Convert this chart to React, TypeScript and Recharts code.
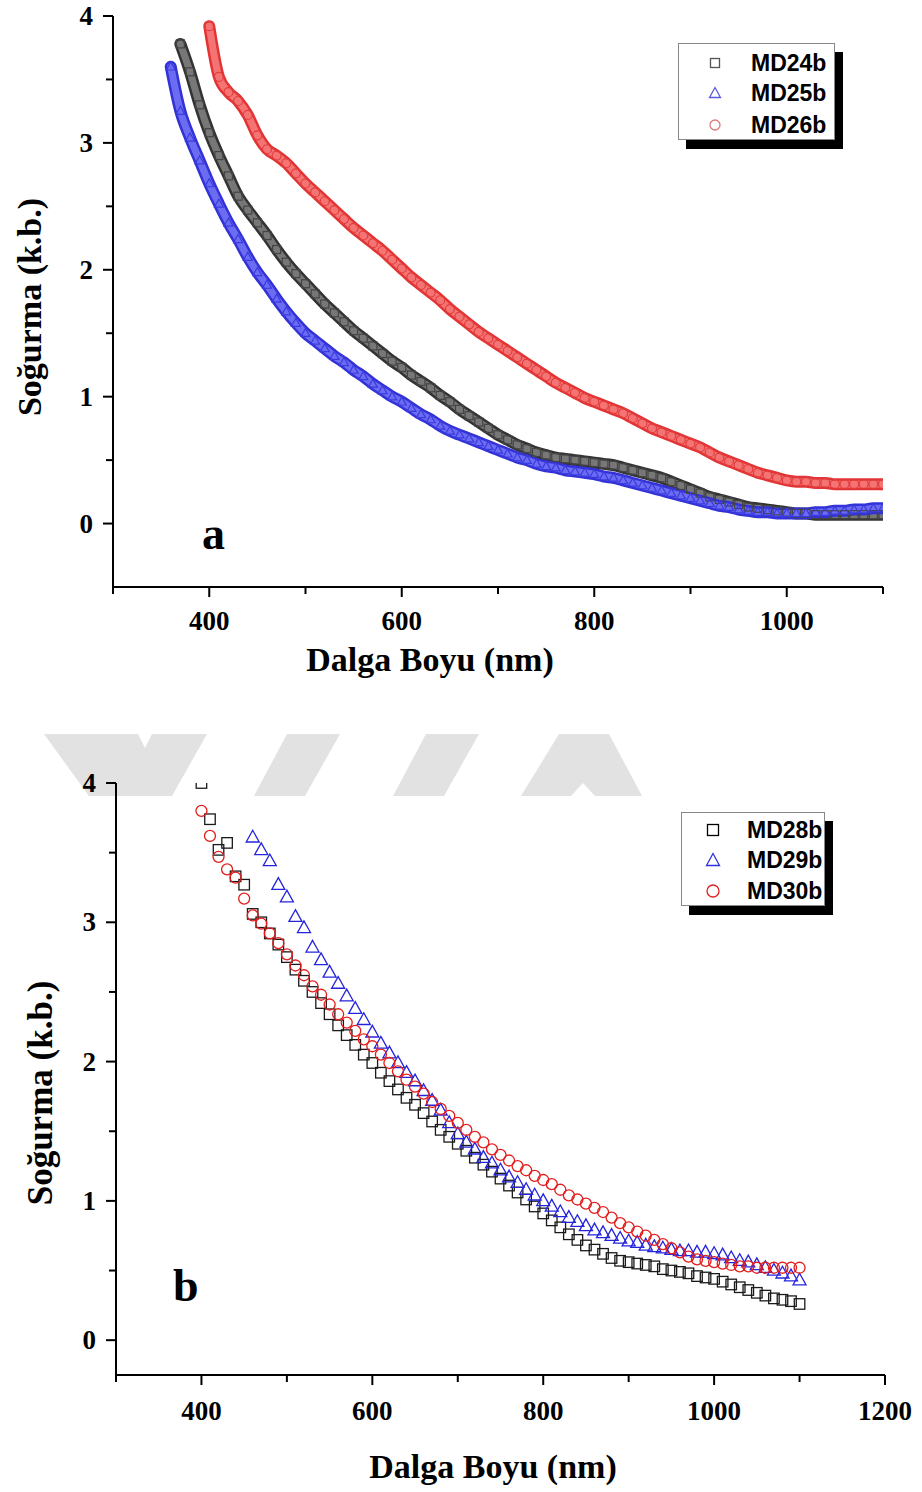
import React from 'react';
import { ComposedChart, Line, Scatter, XAxis, YAxis } from 'recharts';

// ---- panel a ----
const wlA = [
  360, 370, 380, 390, 400, 410, 420, 430, 440, 450, 460, 470, 480, 490, 500, 510, 520, 530, 540, 550,
  560, 570, 580, 590, 600, 610, 620, 630, 640, 650, 660, 670, 680, 690, 700, 710, 720, 730, 740, 750,
  760, 770, 780, 790, 800, 810, 820, 830, 840, 850, 860, 870, 880, 890, 900, 910, 920, 930, 940, 950,
  960, 970, 980, 990, 1000, 1010, 1020, 1030, 1040, 1050, 1060, 1070, 1080, 1090, 1100,
];
const md24b = [
  null, 3.78, 3.56, 3.3, 3.08, 2.9, 2.74, 2.58, 2.47, 2.37,
  2.27, 2.16, 2.06, 1.97, 1.89, 1.81, 1.73, 1.66, 1.59, 1.52,
  1.46, 1.4, 1.34, 1.28, 1.23, 1.17, 1.12, 1.07, 1.01, 0.96,
  0.9, 0.85, 0.8, 0.75, 0.7, 0.66, 0.62, 0.59, 0.56, 0.54,
  0.52, 0.51, 0.5, 0.49, 0.48, 0.47, 0.46, 0.44, 0.42, 0.4,
  0.38, 0.36, 0.33, 0.3, 0.27, 0.24, 0.21, 0.19, 0.17, 0.15,
  0.13, 0.12, 0.11, 0.1, 0.09, 0.08, 0.08, 0.07, 0.07, 0.07,
  0.07, 0.07, 0.07, 0.07, 0.07,
];
const md25b = [
  3.6, 3.25, 3.04, 2.86, 2.68, 2.52, 2.37, 2.24, 2.1, 1.98,
  1.88, 1.77, 1.67, 1.58, 1.5, 1.44, 1.38, 1.32, 1.27, 1.21,
  1.16, 1.1, 1.05, 1.0, 0.96, 0.91, 0.86, 0.82, 0.77, 0.73,
  0.7, 0.67, 0.64, 0.61, 0.58, 0.55, 0.52, 0.5, 0.47, 0.45,
  0.44, 0.42, 0.41, 0.4, 0.39, 0.37, 0.36, 0.34, 0.32, 0.3,
  0.28, 0.26, 0.24, 0.22, 0.2, 0.18, 0.16, 0.14, 0.13, 0.11,
  0.1, 0.09, 0.09, 0.08, 0.08, 0.08, 0.08, 0.09, 0.09, 0.1,
  0.1, 0.11, 0.11, 0.12, 0.12,
];
const md26b = [
  null, null, null, null, 3.92, 3.52, 3.4, 3.33, 3.22, 3.06,
  2.95, 2.9, 2.84, 2.76, 2.68, 2.61, 2.54, 2.47, 2.4, 2.33,
  2.27, 2.21, 2.15, 2.08, 2.01, 1.94, 1.88, 1.82, 1.76, 1.69,
  1.63, 1.57, 1.51, 1.46, 1.41, 1.36, 1.31, 1.26, 1.21, 1.16,
  1.11, 1.07, 1.03, 0.99, 0.96, 0.93, 0.9, 0.87, 0.83, 0.79,
  0.75, 0.72, 0.69, 0.66, 0.63, 0.6, 0.56, 0.52, 0.49, 0.46,
  0.43, 0.4, 0.38, 0.36, 0.34, 0.33, 0.33, 0.32, 0.32, 0.31,
  0.31, 0.31, 0.31, 0.31, 0.31,
];
const xTicksA = [300, 400, 500, 600, 700, 800, 900, 1000, 1100];
const xLabelsA = [400, 600, 800, 1000];
const yTicksA = [0, 0.5, 1, 1.5, 2, 2.5, 3, 3.5, 4];
const yLabelsA = [0, 1, 2, 3, 4];

// ---- panel b ----
const wlB = [
  400, 410, 420, 430, 440, 450, 460, 470, 480, 490, 500, 510, 520, 530, 540, 550, 560, 570, 580, 590,
  600, 610, 620, 630, 640, 650, 660, 670, 680, 690, 700, 710, 720, 730, 740, 750, 760, 770, 780, 790,
  800, 810, 820, 830, 840, 850, 860, 870, 880, 890, 900, 910, 920, 930, 940, 950, 960, 970, 980, 990,
  1000, 1010, 1020, 1030, 1040, 1050, 1060, 1070, 1080, 1090, 1100,
];
const md28b = [
  4.0, 3.74, 3.52, 3.57, 3.33, 3.27, 3.06, 3.0, 2.92, 2.84,
  2.75, 2.66, 2.58, 2.5, 2.42, 2.34, 2.26, 2.19, 2.12, 2.05,
  1.99, 1.92, 1.86, 1.8, 1.74, 1.69, 1.63, 1.57, 1.51, 1.46,
  1.41, 1.36, 1.31, 1.26, 1.21, 1.16, 1.11, 1.06, 1.01, 0.96,
  0.91, 0.86, 0.81, 0.76, 0.72, 0.68, 0.65, 0.62, 0.59, 0.57,
  0.56, 0.55, 0.54, 0.53, 0.51, 0.5, 0.49, 0.48, 0.46, 0.45,
  0.44, 0.42, 0.4, 0.38, 0.36, 0.34, 0.32, 0.3, 0.29, 0.28,
  0.26,
];
const md29b = [
  null, null, null, null, null, null, 3.61, 3.52, 3.44, 3.27,
  3.18, 3.04, 2.96, 2.82, 2.73, 2.64, 2.56, 2.47, 2.38, 2.3,
  2.21, 2.13, 2.06, 1.99, 1.92, 1.86, 1.79, 1.72, 1.65, 1.56,
  1.48, 1.42, 1.37, 1.31, 1.27, 1.22, 1.17, 1.13, 1.08, 1.04,
  1.0, 0.96, 0.92, 0.88, 0.85, 0.82, 0.79, 0.77, 0.75, 0.73,
  0.71, 0.7, 0.68, 0.67, 0.66, 0.65, 0.64, 0.64, 0.63, 0.63,
  0.62, 0.61, 0.59, 0.57, 0.56, 0.54, 0.52, 0.5, 0.48, 0.46,
  0.43,
];
const md30b = [
  3.8, 3.62, 3.47, 3.38, 3.32, 3.17, 3.05, 2.99, 2.92, 2.85,
  2.77, 2.69, 2.62, 2.54, 2.48, 2.41, 2.34, 2.28, 2.22, 2.16,
  2.11, 2.05, 1.99, 1.93, 1.87, 1.82, 1.77, 1.71, 1.66, 1.61,
  1.56, 1.51, 1.46, 1.42, 1.37, 1.33, 1.29, 1.25, 1.22, 1.18,
  1.15, 1.12, 1.08, 1.04, 1.01, 0.98, 0.95, 0.92, 0.88, 0.84,
  0.81, 0.78, 0.75, 0.72, 0.69, 0.66, 0.63, 0.6, 0.58, 0.57,
  0.56, 0.55, 0.54, 0.53, 0.53, 0.52, 0.52, 0.52, 0.52, 0.52,
  0.52,
];
const xTicksB = [300, 400, 500, 600, 700, 800, 900, 1000, 1100, 1200];
const xLabelsB = [400, 600, 800, 1000, 1200];
const yTicksB = [0, 0.5, 1, 1.5, 2, 2.5, 3, 3.5, 4];
const yLabelsB = [0, 1, 2, 3, 4];

const serif = "'Liberation Serif', 'DejaVu Serif', serif";
const sans = "'Liberation Sans', Arial, sans-serif";

const toPoints = (wl: number[], vals: (number | null)[], key: string) =>
  wl.map((w, i) => ({ wl: w, [key]: vals[i] })).filter((p) => p[key] != null);

const a24 = toPoints(wlA, md24b, 'md24b');
const a25 = toPoints(wlA, md25b, 'md25b');
const a26 = toPoints(wlA, md26b, 'md26b');
const b28 = toPoints(wlB, md28b, 'md28b');
const b29 = toPoints(wlB, md29b, 'md29b');
const b30 = toPoints(wlB, md30b, 'md30b');

const tickText = { fontFamily: serif, fontWeight: 700, fontSize: 27, fill: '#000' };

const makeXTick = (labels: number[], gap: number) => (props: any) => {
  const { x, y, payload } = props;
  const major = labels.includes(payload.value);
  return (
    <g>
      <line x1={x} x2={x} y1={y} y2={y + (major ? 10 : 7)} stroke="#000" strokeWidth={2} />
      {major && (
        <text x={x} y={y + gap} textAnchor="middle" style={tickText}>
          {payload.value}
        </text>
      )}
    </g>
  );
};

const makeYTick = (labels: number[]) => (props: any) => {
  const { x, y, payload } = props;
  const major = labels.includes(payload.value);
  return (
    <g>
      <line x1={x} x2={x - (major ? 10 : 7)} y1={y} y2={y} stroke="#000" strokeWidth={2} />
      {major && (
        <text x={x - 20} y={y} dy={9} textAnchor="end" style={tickText}>
          {payload.value}
        </text>
      )}
    </g>
  );
};

const square = (color: string, s: number, sw: number) => (p: any) =>
  <rect x={p.cx - s / 2} y={p.cy - s / 2} width={s} height={s} fill="none" stroke={color} strokeWidth={sw} />;
const triangle = (color: string, s: number, sw: number) => (p: any) => {
  const h = s * 0.9;
  return (
    <polygon
      points={`${p.cx},${p.cy - h * 0.6} ${p.cx - s / 2},${p.cy + h * 0.4} ${p.cx + s / 2},${p.cy + h * 0.4}`}
      fill="none"
      stroke={color}
      strokeWidth={sw}
    />
  );
};
const circle = (color: string, s: number, sw: number) => (p: any) =>
  <circle cx={p.cx} cy={p.cy} r={s / 2} fill="none" stroke={color} strokeWidth={sw} />;

const frame = { stroke: '#000', strokeWidth: 2 };

function LegendBox(props: {
  left: number; top: number; width: number; height: number; iconX: number; textX: number;
  rows: { y: number; label: string; icon: React.ReactNode }[];
}) {
  return (
    <div
      style={{
        position: 'absolute', left: props.left, top: props.top, width: props.width, height: props.height,
        border: '1px solid #888', background: '#fff', boxShadow: '8px 9px 0 0 #000', boxSizing: 'border-box',
      }}
    >
      {props.rows.map((r) => (
        <div key={r.label}>
          <svg style={{ position: 'absolute', left: props.iconX - 9, top: r.y - 9 }} width={18} height={18}>
            {r.icon}
          </svg>
          <div
            style={{
              position: 'absolute', left: props.textX, top: r.y - 11.5, fontFamily: sans, fontWeight: 700,
              fontSize: 23, lineHeight: '23px', color: '#000', whiteSpace: 'nowrap',
            }}
          >
            {r.label}
          </div>
        </div>
      ))}
    </div>
  );
}

const abs = (left: number, top: number, extra: React.CSSProperties = {}): React.CSSProperties => ({
  position: 'absolute', left, top, fontFamily: serif, fontWeight: 700, color: '#000', whiteSpace: 'nowrap',
  lineHeight: 1, ...extra,
});

export default function App() {
  return (
    <div style={{ position: 'absolute', left: 0, top: 0, width: 922, height: 1492, background: '#fff', overflow: 'hidden' }}>
      {/* watermark */}
      <svg style={{ position: 'absolute', left: 0, top: 0 }} width={922} height={1492}>
        <g fill="#e2e2e2">
          <polygon points="44,734 138,734 145,748 152,734 207,734 172,796 89,796" />
          <polygon points="287,734 340,734 305,796 254,796" />
          <polygon points="426,734 479,734 444,796 393,796" />
          <polygon points="559,734 609,734 642,796 595,796 583,783 571,796 521,796" />
        </g>
      </svg>

      {/* panel a */}
      <div style={{ position: 'absolute', left: 0, top: 0 }}>
        <ComposedChart width={922} height={700} margin={{ top: 16, right: 39, bottom: 23, left: 0 }}>
          <XAxis
            dataKey="wl" type="number" domain={[300, 1100]} ticks={xTicksA} interval={0} height={90}
            tickSize={0} tickMargin={0} tickLine={false} axisLine={frame} tick={makeXTick(xLabelsA, 43)}
            allowDataOverflow
          />
          <XAxis xAxisId="top" orientation="top" type="number" domain={[300, 1100]} height={0} tick={false} tickLine={false} axisLine={frame} />
          <YAxis
            type="number" domain={[-0.5, 4]} ticks={yTicksA} interval={0} width={113}
            tickSize={0} tickMargin={0} tickLine={false} axisLine={frame} tick={makeYTick(yLabelsA)}
            allowDataOverflow
          />
          <YAxis yAxisId="right" orientation="right" type="number" domain={[-0.5, 4]} width={0} tick={false} tickLine={false} axisLine={frame} />

          <Line data={a24} dataKey="md24b" type="monotone" stroke="#333" strokeWidth={12} dot={false} isAnimationActive={false} strokeLinecap="round" />
          <Line data={a24} dataKey="md24b" type="monotone" stroke="#777" strokeWidth={7} dot={false} isAnimationActive={false} strokeLinecap="round" />
          <Scatter data={a24} dataKey="md24b" shape={square('#444', 8, 1.2)} isAnimationActive={false} />

          <Line data={a25} dataKey="md25b" type="monotone" stroke="#3232d6" strokeWidth={12} dot={false} isAnimationActive={false} strokeLinecap="round" />
          <Line data={a25} dataKey="md25b" type="monotone" stroke="#6c6cf2" strokeWidth={7} dot={false} isAnimationActive={false} strokeLinecap="round" />
          <Scatter data={a25} dataKey="md25b" shape={triangle('#3a3ae0', 9, 1.2)} isAnimationActive={false} />

          <Line data={a26} dataKey="md26b" type="monotone" stroke="#e23434" strokeWidth={12} dot={false} isAnimationActive={false} strokeLinecap="round" />
          <Line data={a26} dataKey="md26b" type="monotone" stroke="#f47474" strokeWidth={7} dot={false} isAnimationActive={false} strokeLinecap="round" />
          <Scatter data={a26} dataKey="md26b" shape={circle('#e23c3c', 9, 1.2)} isAnimationActive={false} />
        </ComposedChart>
      </div>

      <div style={abs(202, 511, { fontSize: 46 })}>a</div>
      <div style={abs(430, 660, { fontSize: 34, transform: 'translate(-50%, -50%)' })}>Dalga Boyu (nm)</div>
      <div style={abs(30, 307, { fontSize: 34, transform: 'translate(-50%, -50%) rotate(-90deg)' })}>Soğurma (k.b.)</div>
      <LegendBox
        left={678} top={43} width={157} height={97} iconX={36} textX={72}
        rows={[
          { y: 19, label: 'MD24b', icon: <rect x={4.5} y={4.5} width={9} height={9} fill="none" stroke="#555" strokeWidth={1.3} /> },
          { y: 49, label: 'MD25b', icon: <polygon points="9,3.5 3.5,13.5 14.5,13.5" fill="none" stroke="#5a5ae0" strokeWidth={1.3} /> },
          { y: 81, label: 'MD26b', icon: <circle cx={9} cy={9} r={5} fill="none" stroke="#e07a7a" strokeWidth={1.3} /> },
        ]}
      />

      {/* panel b */}
      <div style={{ position: 'absolute', left: 0, top: 700 }}>
        <ComposedChart width={922} height={792} margin={{ top: 83, right: 37, bottom: 27, left: 0 }}>
          <XAxis
            dataKey="wl" type="number" domain={[300, 1200]} ticks={xTicksB} interval={0} height={90}
            tickSize={0} tickMargin={0} tickLine={false} axisLine={frame} tick={makeXTick(xLabelsB, 45)}
            allowDataOverflow
          />
          <XAxis xAxisId="top" orientation="top" type="number" domain={[300, 1200]} height={0} tick={false} tickLine={false} axisLine={frame} />
          <YAxis
            type="number" domain={[-0.25, 4]} ticks={yTicksB} interval={0} width={116}
            tickSize={0} tickMargin={0} tickLine={false} axisLine={frame} tick={makeYTick(yLabelsB)}
            allowDataOverflow
          />
          <YAxis yAxisId="right" orientation="right" type="number" domain={[-0.25, 4]} width={0} tick={false} tickLine={false} axisLine={frame} />

          <Scatter data={b28} dataKey="md28b" shape={square('#1a1a1a', 10.5, 1.3)} isAnimationActive={false} />
          <Scatter data={b29} dataKey="md29b" shape={triangle('#2424dc', 13, 1.3)} isAnimationActive={false} />
          <Scatter data={b30} dataKey="md30b" shape={circle('#e41c1c', 11, 1.3)} isAnimationActive={false} />
        </ComposedChart>
      </div>

      <div style={abs(173, 1263, { fontSize: 46 })}>b</div>
      <div style={abs(493, 1467, { fontSize: 34, transform: 'translate(-50%, -50%)' })}>Dalga Boyu (nm)</div>
      <div style={abs(40, 1093, { fontSize: 35, transform: 'translate(-50%, -50%) rotate(-90deg)' })}>Soğurma (k.b.)</div>
      <LegendBox
        left={681} top={812} width={144} height={94} iconX={31} textX={65}
        rows={[
          { y: 17, label: 'MD28b', icon: <rect x={3.5} y={3.5} width={11} height={11} fill="none" stroke="#000" strokeWidth={1.3} /> },
          { y: 47, label: 'MD29b', icon: <polygon points="9,2.5 2.5,14.5 15.5,14.5" fill="none" stroke="#3030e0" strokeWidth={1.3} /> },
          { y: 78, label: 'MD30b', icon: <circle cx={9} cy={9} r={6} fill="none" stroke="#e02020" strokeWidth={1.3} /> },
        ]}
      />
    </div>
  );
}
